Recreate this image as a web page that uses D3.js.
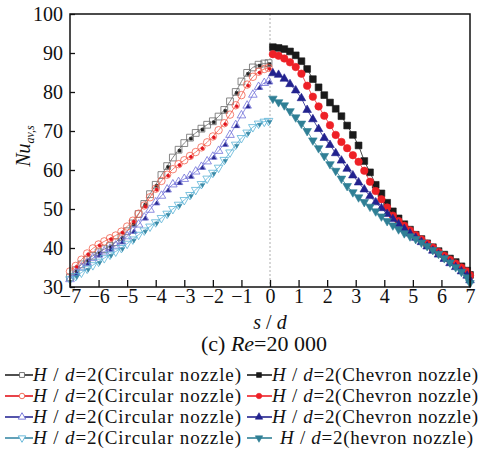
<!DOCTYPE html>
<html>
<head>
<meta charset="utf-8">
<script src="https://cdn.jsdelivr.net/npm/d3@7/dist/d3.min.js"></script>
<style>
  body { margin: 0; background: #fff; }
  svg { display: block; }
</style>
</head>
<body>
<svg id="chart" width="482" height="453"></svg>
<script>
// sample positions (s/d)
const sLeft = [-7.0, -6.8, -6.6, -6.4, -6.2, -6.0, -5.8, -5.6, -5.4, -5.2, -5.0, -4.8,
  -4.6, -4.4, -4.2, -4.0, -3.8, -3.6, -3.4, -3.2, -3.0, -2.8, -2.6, -2.4, -2.2, -2.0,
  -1.8, -1.6, -1.4, -1.2, -1.0, -0.8, -0.6, -0.4, -0.2, -0.05];
const sRight = [0.1, 0.3, 0.5, 0.7, 0.9, 1.1, 1.3, 1.5, 1.7, 1.9, 2.1, 2.3, 2.5, 2.7,
  2.9, 3.1, 3.3, 3.5, 3.7, 3.9, 4.1, 4.3, 4.5, 4.7, 4.9, 5.1, 5.3, 5.5, 5.7, 5.9, 6.1,
  6.3, 6.5, 6.7, 6.9, 7.0];

// circular nozzle (left half, open markers)
const circBlack = [32.5, 34.3, 35.8, 37.0, 38.0, 38.9, 39.7, 40.5, 41.5, 42.8, 44.3, 46.3,
  48.7, 51.3, 53.8, 56.2, 58.7, 61.0, 63.2, 65.2, 66.9, 68.3, 69.5, 70.6, 71.6, 72.5,
  73.7, 75.4, 77.6, 80.0, 82.7, 84.9, 86.3, 87.0, 87.3, 87.4];
const circRed = [34.0, 35.4, 37.0, 38.6, 39.9, 40.9, 41.7, 42.5, 43.2, 44.2, 45.5, 47.0,
  48.8, 50.9, 53.0, 55.2, 57.2, 58.8, 60.2, 61.5, 62.5, 63.6, 64.6, 65.8, 67.1, 68.6,
  70.2, 72.0, 74.2, 76.6, 79.2, 81.9, 83.9, 85.2, 85.9, 86.2];
const circBlue = [32.0, 33.6, 35.0, 36.2, 37.4, 38.3, 39.1, 39.8, 40.6, 41.7, 43.0, 44.4,
  46.0, 47.8, 49.8, 51.7, 53.4, 55.0, 56.3, 56.9, 57.7, 58.5, 59.6, 60.8, 62.2, 63.4,
  64.9, 66.7, 69.0, 71.5, 74.0, 76.5, 79.3, 81.3, 82.3, 82.7];
const circCyan = [32.0, 32.8, 33.7, 34.7, 35.6, 36.5, 37.4, 38.3, 39.1, 40.0, 41.1, 42.2,
  43.4, 44.5, 45.5, 46.6, 47.7, 48.8, 50.0, 51.1, 52.3, 53.6, 54.9, 56.4, 57.8, 59.3,
  60.6, 62.6, 64.5, 66.5, 68.2, 69.6, 71.0, 71.9, 72.4, 72.6];

// chevron nozzle (right half, filled markers)
const chevBlack = [91.5, 91.3, 91.0, 90.4, 89.4, 87.9, 85.9, 83.3, 81.2, 79.2, 77.3, 75.7,
  73.8, 71.4, 69.0, 66.3, 62.3, 59.4, 56.2, 54.0, 51.6, 49.4, 47.6, 46.1, 44.7, 43.4,
  42.3, 41.2, 40.2, 39.2, 38.3, 37.3, 36.4, 35.3, 34.2, 33.1];
const chevRed = [89.7, 89.3, 88.6, 87.6, 86.4, 84.7, 81.6, 78.8, 76.3, 73.9, 71.5, 69.0,
  67.2, 65.6, 63.8, 62.1, 59.8, 57.0, 54.6, 52.5, 50.4, 48.3, 46.9, 45.7, 44.5, 43.3,
  42.2, 41.1, 40.1, 39.0, 38.0, 37.0, 36.0, 35.0, 34.0, 33.0];
const chevBlue = [84.8, 84.4, 83.4, 82.0, 80.4, 78.4, 75.4, 73.0, 70.5, 68.2, 66.4, 64.3,
  62.4, 60.3, 58.6, 56.8, 55.0, 53.3, 51.7, 50.2, 48.7, 47.4, 46.1, 44.9, 43.7, 42.6,
  41.5, 40.4, 39.3, 38.3, 37.2, 36.1, 35.1, 34.0, 32.9, 31.7];
const chevTeal = [78.3, 77.4, 76.6, 75.1, 73.5, 71.9, 70.0, 67.6, 65.6, 63.6, 61.5, 59.8,
  57.8, 55.9, 54.3, 53.0, 51.8, 50.6, 49.4, 48.1, 46.9, 45.8, 44.8, 43.8, 43.0, 42.3,
  41.4, 40.5, 39.5, 38.5, 37.4, 36.3, 35.1, 33.9, 32.5, 31.0];

const xTicks = [-7, -6, -5, -4, -3, -2, -1, 0, 1, 2, 3, 4, 5, 6, 7];
const yTicks = [30, 40, 50, 60, 70, 80, 90, 100];
const legendNames = ['Circular nozzle', 'Chevron nozzle', 'hevron nozzle'];

const series = [
  {s: sLeft, v: circBlack, shape: 'square', open: true, color: '#6a6a6a', dot: '#222'},
  {s: sLeft, v: circRed, shape: 'circle', open: true, color: '#f2604c', dot: '#e3141c'},
  {s: sLeft, v: circBlue, shape: 'up', open: true, color: '#7070d8', dot: '#2a2a96'},
  {s: sLeft, v: circCyan, shape: 'down', open: true, color: '#5ab2d6', dot: '#3a8aa6'},
  {s: sRight, v: chevBlack, shape: 'square', open: false, color: '#1a1a1a'},
  {s: sRight, v: chevRed, shape: 'circle', open: false, color: '#ee2026'},
  {s: sRight, v: chevBlue, shape: 'up', open: false, color: '#22228e'},
  {s: sRight, v: chevTeal, shape: 'down', open: false, color: '#2f7f95'}
];

const serif = '"Liberation Serif"';
const svg = d3.select('#chart');
const plotLeft = 70;
const plotRight = 470;
const plotTop = 14;
const plotBottom = 287;

const x = d3.scaleLinear().domain([-7, 7]).range([plotLeft, plotRight]);
const y = d3.scaleLinear().domain([30, 100]).range([plotBottom, plotTop]);

const symbolFor = (shape) => ({
  square: d3.symbolSquare,
  circle: d3.symbolCircle,
  up: d3.symbolTriangle,
  down: d3.symbolTriangle
})[shape];
const sizeFor = {square: 46, circle: 44, up: 32, down: 32};

function drawMarker(g, shape, size, open, color) {
  g.append('path')
    .attr('d', d3.symbol().type(symbolFor(shape)).size(size)())
    .attr('transform', shape === 'down' ? 'rotate(180)' : null)
    .attr('fill', open ? 'none' : color)
    .attr('stroke', color)
    .attr('stroke-width', open ? 0.8 : 0.6);
}

// dashed centre line
svg.append('line')
  .attr('x1', x(0)).attr('x2', x(0))
  .attr('y1', plotTop).attr('y2', plotBottom)
  .attr('stroke', '#999')
  .attr('stroke-width', 0.8)
  .attr('stroke-dasharray', '2,2');

const line = d3.line().x((d) => x(d[0])).y((d) => y(d[1]));

series.forEach((ser) => {
  const pts = ser.s.map((s, i) => [s, ser.v[i]]);
  svg.append('path')
    .attr('d', line(pts))
    .attr('fill', 'none')
    .attr('stroke', ser.color)
    .attr('stroke-width', 0.8);

  svg.append('g').selectAll('g')
    .data(pts)
    .enter()
    .append('g')
    .attr('transform', (d) => `translate(${x(d[0])},${y(d[1])})`)
    .each(function() {
      drawMarker(d3.select(this), ser.shape, sizeFor[ser.shape], ser.open, ser.color);
    });

  // small dark dots inside the open markers
  if (ser.open) {
    svg.append('g').selectAll('g')
      .data(pts.filter((d, i) => i % 2 === 1))
      .enter()
      .append('g')
      .attr('transform', (d) => `translate(${x(d[0]) + 1},${y(d[1]) + 1})`)
      .each(function() {
        drawMarker(d3.select(this), ser.shape, 8, false, ser.dot);
      });
  }
});

// frame
svg.append('rect')
  .attr('x', plotLeft).attr('y', plotTop)
  .attr('width', plotRight - plotLeft).attr('height', plotBottom - plotTop)
  .attr('fill', 'none')
  .attr('stroke', '#111')
  .attr('stroke-width', 1.5);

// axes with inward ticks
const xAxis = svg.append('g')
  .attr('transform', `translate(0,${plotBottom})`)
  .call(d3.axisBottom(x).tickValues(xTicks).tickSizeInner(-7).tickSizeOuter(0)
    .tickPadding(2).tickFormat((d) => d < 0 ? '\u2212' + Math.abs(d) : d));
xAxis.select('.domain').remove();
xAxis.attr('font-family', serif);
xAxis.selectAll('line').attr('stroke', '#111').attr('stroke-width', 1.3);
xAxis.selectAll('text')
  .attr('font-family', serif)
  .attr('font-size', 20)
  .attr('fill', '#111');

const yAxis = svg.append('g')
  .attr('transform', `translate(${plotLeft},0)`)
  .call(d3.axisLeft(y).tickValues(yTicks).tickSizeInner(-5).tickSizeOuter(0)
    .tickPadding(7));
yAxis.select('.domain').remove();
yAxis.attr('font-family', serif);
yAxis.selectAll('line').attr('stroke', '#111').attr('stroke-width', 1.3);
yAxis.selectAll('text')
  .attr('font-family', serif)
  .attr('font-size', 20)
  .attr('fill', '#111');

// y label
const yl = svg.append('text')
  .attr('transform', 'translate(30,146) rotate(-90)')
  .attr('text-anchor', 'middle')
  .attr('font-family', serif)
  .attr('font-size', 20)
  .attr('fill', '#111');
yl.append('tspan').attr('font-style', 'italic').text('Nu');
yl.append('tspan').attr('font-style', 'italic').attr('font-size', 12)
  .attr('dy', 4).text('av,s');

// x label
const xl = svg.append('text')
  .attr('x', 270).attr('y', 329)
  .attr('text-anchor', 'middle')
  .attr('font-family', serif)
  .attr('font-size', 20)
  .attr('fill', '#111');
xl.append('tspan').attr('font-style', 'italic').text('s');
xl.append('tspan').text(' / ');
xl.append('tspan').attr('font-style', 'italic').text('d');

// caption
const cap = svg.append('text')
  .attr('x', 264).attr('y', 351)
  .attr('text-anchor', 'middle')
  .attr('font-family', serif)
  .attr('font-size', 22)
  .attr('fill', '#111');
cap.append('tspan').text('(c) ');
cap.append('tspan').attr('font-style', 'italic').text('Re');
cap.append('tspan').text('=20 000');

// legend (rows are tight, so glyphs a touch smaller and stretched to width)
const rowY = [375, 396, 417, 438];
const legend = svg.append('g');
series.forEach((ser, i) => {
  const row = i % 4;
  const x0 = ser.open ? 5 : 247;
  const g = legend.append('g').attr('transform', `translate(${x0},${rowY[row]})`);
  g.append('line')
    .attr('x1', 0).attr('x2', ser.open ? 28 : 25)
    .attr('stroke', ser.open ? ser.dot : ser.color)
    .attr('stroke-width', 1.6);
  const mk = g.append('g').attr('transform', `translate(${ser.open ? 17 : 12},0)`);
  if (ser.open) {
    mk.append('path')
      .attr('d', d3.symbol().type(symbolFor(ser.shape)).size(24)())
      .attr('transform', ser.shape === 'down' ? 'rotate(180)' : null)
      .attr('fill', '#fff')
      .attr('stroke', ser.color)
      .attr('stroke-width', 0.9);
  } else {
    drawMarker(mk, ser.shape, 24, false, ser.color);
  }
  const name = ser.open ? legendNames[0] : (row === 3 ? legendNames[2] : legendNames[1]);
  const t = g.append('text')
    .attr('x', ser.open ? 28 : (row === 3 ? 33 : 25))
    .attr('y', 6)
    .attr('font-family', serif)
    .attr('font-size', 19)
    .attr('textLength', ser.open ? 208 : (row === 3 ? 193 : 206))
    .attr('lengthAdjust', 'spacing')
    .attr('fill', '#111');
  t.append('tspan').attr('font-style', 'italic').text('H');
  t.append('tspan').text(' / ');
  t.append('tspan').attr('font-style', 'italic').text('d');
  t.append('tspan').text(`=2(${name})`);
});
</script>
</body>
</html>
